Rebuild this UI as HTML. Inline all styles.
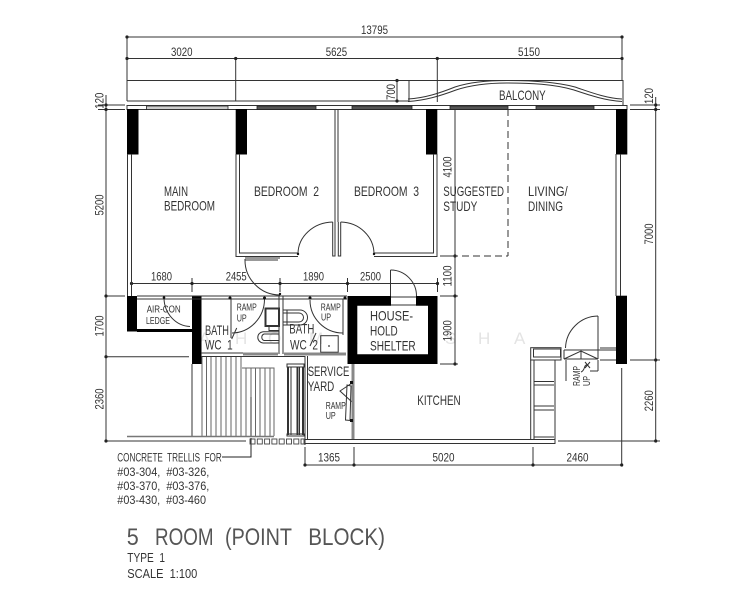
<!DOCTYPE html>
<html><head><meta charset="utf-8"><style>
html,body{margin:0;padding:0;background:#fff}
svg{display:block}
text{font-family:"Liberation Sans",sans-serif;fill:#333;white-space:pre}
</style></head><body>
<svg width="750" height="600" viewBox="0 0 750 600" xmlns="http://www.w3.org/2000/svg">
<rect width="750" height="600" fill="#fff"/>
<!-- watermark -->
<g font-size="17">
<text x="199" y="344" style="fill:#e4e4e4">A</text><text x="235" y="344" style="fill:#e4e4e4">H</text><text x="268" y="344" style="fill:#e4e4e4">O</text><text x="309" y="344" style="fill:#e4e4e4">M</text><text x="347" y="344" style="fill:#e4e4e4">E</text><text x="445" y="344" style="fill:#e4e4e4">S</text><text x="478" y="344" style="fill:#e4e4e4">H</text><text x="514" y="344" style="fill:#e4e4e4">A</text>
</g>
<!-- dimension lines -->
<g stroke="#333" stroke-width="1" fill="none">
<path d="M127 37H622M127 58.500H622M127 37V101M235.700 58.500V101M437.300 58.500V102M622 37V80"/>
<path d="M127 80.500H623V105M127 101H409"/>
<path d="M397 80.500V102M387 101H409"/>
<path d="M98 105H125M98 109.500H125M106 95V441M106 296H125M106 356.700H189M106 441H246"/>
<path d="M630 105H660M630 109.500H660M655.700 97V441M630 360H660M558 441H660"/>
<path d="M455 109V296M455 296V364M440 256H458M440 296H458M440 364H458"/>
<path d="M131.500 283.500H437.500M131.500 278V292M192 278V292M280 278V292M347.500 278V292M437.500 278V292"/>
<path d="M305 465H622M305 447V465M354 447V465M533 447V465M621.700 368V465"/>
</g>
<g fill="#222">
<circle cx="127" cy="37" r="1.600"/><circle cx="622" cy="37" r="1.600"/><circle cx="127" cy="58.500" r="1.600"/><circle cx="235.700" cy="58.500" r="1.600"/><circle cx="437.300" cy="58.500" r="1.600"/><circle cx="622" cy="58.500" r="1.600"/>
<circle cx="397" cy="80.500" r="1.600"/><circle cx="397" cy="101" r="1.600"/>
<circle cx="106" cy="105" r="1.600"/><circle cx="106" cy="109.500" r="1.600"/><circle cx="106" cy="296" r="1.600"/><circle cx="106" cy="356.700" r="1.600"/><circle cx="106" cy="441" r="1.600"/>
<circle cx="655.700" cy="105" r="1.600"/><circle cx="655.700" cy="109.500" r="1.600"/><circle cx="655.700" cy="360" r="1.600"/><circle cx="655.700" cy="441" r="1.600"/>
<circle cx="455" cy="256" r="1.600"/><circle cx="455" cy="296" r="1.600"/><circle cx="455" cy="364" r="1.600"/>
<circle cx="131.500" cy="283.500" r="1.600"/><circle cx="192" cy="283.500" r="1.600"/><circle cx="280" cy="283.500" r="1.600"/><circle cx="347.500" cy="283.500" r="1.600"/><circle cx="437.500" cy="283.500" r="1.600"/>
<circle cx="305" cy="465" r="1.600"/><circle cx="354" cy="465" r="1.600"/><circle cx="533" cy="465" r="1.600"/><circle cx="621.700" cy="465" r="1.600"/>
</g>
<!-- balcony curve -->
<g fill="none" stroke="#333" stroke-width="1">
<path d="M408 99C425 98 440 93 455 87C470 82 490 80.500 507 80.500C530 80.500 555 81.500 575 87C590 92 605 98 622 99"/>
<path d="M408 101.500C425 100.500 440 96 456 90C471 85 490 83 507 83C530 83 554 84 574 90C589 95 605 100.500 622 101.500"/>
<path d="M409 80.500V102"/>
</g>
<!-- top wall and windows -->
<g fill="none" stroke="#333" stroke-width="1">
<rect x="127" y="105.500" width="500" height="4"/>
</g>
<g fill="#555" stroke="#222" stroke-width=".8">
<rect x="146.500" y="106" width="81.500" height="3.500" fill="#ccc"/>
<rect x="257" y="106" width="59" height="3.500"/>
<rect x="352" y="106" width="60" height="3.500"/>
<rect x="450" y="106" width="58" height="3.500"/>
<rect x="536" y="106" width="58" height="3.500"/>
</g>
<!-- thick columns -->
<g fill="#000">
<rect x="127" y="109" width="11.500" height="45.500"/>
<rect x="235.700" y="109" width="11.300" height="45.500"/>
<rect x="426" y="109" width="11.300" height="45.500"/>
<rect x="616" y="109" width="11.300" height="45.500"/>
<rect x="616" y="295.700" width="11" height="68.300"/>
<rect x="127" y="296" width="10" height="35.500"/>
<rect x="192" y="296" width="9.500" height="68"/>
<rect x="137" y="329" width="55" height="3"/>
<path fill-rule="evenodd" d="M347.500 296H437.500V364H347.500ZM357.300 305.700V354.300H428V305.700Z"/>
</g>
<rect x="391" y="295" width="25" height="11.500" fill="#fff"/>
<!-- thin walls -->
<g fill="none" stroke="#333" stroke-width="1">
<path d="M127.500 154V296M131.500 154V296"/>
<path d="M236 154V256.500H298M239.500 154V253H298"/>
<path d="M335 109V222M338 109V222"/>
<path d="M332.700 222V256H335V222M338.300 222V256H340.700V222"/>
<path d="M437 154V256.500H374M433.500 154V253H374"/>
<path d="M616 154V296M620.500 154V296"/>
<path d="M245 258H280M245 260H278"/>
<path d="M298 254A35.500 32 0 0 1 332.700 222M374 254A34 32 0 0 0 340.700 222"/>
<path d="M245 259A35 35 0 0 0 280 295"/>
<path d="M137 296H347M137 299H347"/>
<path d="M164 298A27 29 0 0 0 190 326.500"/>
<path d="M231 299V338M264.500 299A33 34 0 0 1 232 333M236.700 328L231.700 339"/>
<path d="M279 296V354M283 296V354"/>
<path d="M310 300A33 33 0 0 0 343 333M343 299V335M316 333L310 346"/>
<path d="M390.500 270V296M390.500 270H391A26 26 0 0 1 416.500 296M391 297H416M391 305H416"/>
<!-- fixtures -->
<rect x="265.500" y="308.500" width="13.500" height="17.500" stroke-width="2"/>
<path d="M269 326V330.500H279"/>
<path d="M279 331.700H263A6 5.700 0 0 0 263 343H279M279 334H264A3.500 3.500 0 0 0 264 340.500H279"/>
<path d="M283 310H300A7.500 7.500 0 0 1 300 325H283M287 310V325M283 313H299A4.500 4.500 0 0 1 299 322H283"/>
<rect x="320.700" y="335.700" width="17.500" height="16.500"/>
<!-- wall under baths -->
<path d="M201 356.500H305M201 353H243"/>
<path d="M192 364V436.500"/>
</g>
<circle cx="329" cy="346" r=".9" fill="#333"/>
<g fill="#111"><circle cx="164" cy="297.500" r="1.300"/><circle cx="230" cy="298" r="1.500"/><circle cx="264.500" cy="298" r="1.500"/><circle cx="310" cy="298" r="1.500"/><circle cx="345" cy="298" r="1.500"/><circle cx="280" cy="294" r="1.200"/><circle cx="298" cy="254" r="1.200"/><circle cx="374" cy="254" r="1.200"/></g>
<rect x="243" y="352.500" width="35" height="3" fill="#888"/>
<rect x="284" y="352.500" width="62" height="3" fill="#888"/>
<!-- trellis -->
<g stroke="#666" stroke-width="1" fill="none">
<path d="M202 357V436M206.500 357V436M211 357V436M216 357V436M221 357V436M226 357V436M231 357V436M236 357V436M241 357V436"/>
<path d="M242 368H274V436M246 368V436M251 368V436M255.500 368V436M260 368V436M265 368V436M270 368V436"/>
</g>
<path d="M127 436.500H274" stroke="#777" stroke-width="1.500" fill="none"/>
<path d="M251 397V437" stroke="#777" stroke-width="1.500" fill="none"/>
<path d="M251 438V457H222" stroke="#222" stroke-width="1" fill="none"/>
<g stroke="#333" fill="none" stroke-width="1">
<rect x="287" y="364" width="17" height="3"/>
<path d="M288 367V435M297.500 367V435M303 367V435" stroke-width="2"/>
<path d="M291 367V435M299.500 367V435"/>
<rect x="287" y="434" width="17" height="2"/>
</g>
<g fill="none" stroke="#444" stroke-width=".9">
<rect x="250" y="439" width="5" height="5"/><rect x="257.300" y="439" width="5" height="5"/><rect x="264.600" y="439" width="5" height="5"/><rect x="271.900" y="439" width="5" height="5"/><rect x="279.200" y="439" width="5" height="5"/><rect x="286.500" y="439" width="5" height="5"/><rect x="293.800" y="439" width="5" height="5"/><rect x="301" y="439" width="3" height="5"/>
</g>
<!-- service yard and kitchen -->
<g fill="none" stroke="#333" stroke-width="1">
<path d="M305 356V445M307.500 356V439"/>
<path d="M305 439.500H555M305 443.500H555V360"/>
<path d="M352 383L340 391L352 402M347 385L345.500 420L350 420.500L351 386Z"/>
<path d="M508 109V256M440 256H508" stroke-dasharray="7 4"/>
<rect x="530.700" y="347.700" width="30.300" height="12.300"/>
<rect x="533.500" y="349" width="27" height="8"/>
<path d="M530.700 360V440"/>
<path d="M534 360V440M534 360H554M534 381.500H554M534 385H554M534 406H554M534 410H554M534 437H554"/>
<path d="M564 350H616M564 359H598M600 348H616M600 360H616M564 350V359M598 350V359"/>
<path d="M564 359L581 351L598 359M581 351V359"/>
<path d="M566 360V381M598 360V371M590 371H598"/>
<path d="M598 316V350M598 316A33 33 0 0 0 565.500 348"/>
<path d="M581 372C586 370 583 364 588 365M585 362L590 368M590 362L585 368"/>
</g>
<rect x="351.500" y="364" width="3" height="75" fill="#888"/>
<rect x="350" y="381" width="3" height="3" fill="#111"/>
<rect x="350" y="419" width="3" height="3" fill="#111"/>
<!-- labels -->
<g font-size="12">
<text x="361" y="34" textLength="27" lengthAdjust="spacingAndGlyphs">13795</text>
<text x="171" y="56" textLength="21.500" lengthAdjust="spacingAndGlyphs">3020</text>
<text x="325.700" y="56" textLength="21.500" lengthAdjust="spacingAndGlyphs">5625</text>
<text x="518" y="56" textLength="22" lengthAdjust="spacingAndGlyphs">5150</text>
<text x="151" y="280.700" textLength="21" lengthAdjust="spacingAndGlyphs">1680</text>
<text x="225.700" y="280.700" textLength="21" lengthAdjust="spacingAndGlyphs">2455</text>
<text x="303" y="280.700" textLength="21" lengthAdjust="spacingAndGlyphs">1890</text>
<text x="360" y="280.700" textLength="21" lengthAdjust="spacingAndGlyphs">2500</text>
<text x="318" y="461.500" textLength="22" lengthAdjust="spacingAndGlyphs">1365</text>
<text x="432.500" y="461.500" textLength="22" lengthAdjust="spacingAndGlyphs">5020</text>
<text x="566.500" y="461.500" textLength="22" lengthAdjust="spacingAndGlyphs">2460</text>
<text transform="translate(103.500 100.700) rotate(-90)" text-anchor="middle" textLength="16" lengthAdjust="spacingAndGlyphs">120</text>
<text transform="translate(103.500 205) rotate(-90)" text-anchor="middle" textLength="21" lengthAdjust="spacingAndGlyphs">5200</text>
<text transform="translate(103.500 326) rotate(-90)" text-anchor="middle" textLength="21" lengthAdjust="spacingAndGlyphs">1700</text>
<text transform="translate(103.500 399) rotate(-90)" text-anchor="middle" textLength="21" lengthAdjust="spacingAndGlyphs">2360</text>
<text transform="translate(653 96) rotate(-90)" text-anchor="middle" textLength="16" lengthAdjust="spacingAndGlyphs">120</text>
<text transform="translate(653 234) rotate(-90)" text-anchor="middle" textLength="21" lengthAdjust="spacingAndGlyphs">7000</text>
<text transform="translate(653 400.700) rotate(-90)" text-anchor="middle" textLength="21" lengthAdjust="spacingAndGlyphs">2260</text>
<text transform="translate(395 92) rotate(-90)" text-anchor="middle" textLength="16" lengthAdjust="spacingAndGlyphs">700</text>
<text transform="translate(451.700 167) rotate(-90)" text-anchor="middle" textLength="21" lengthAdjust="spacingAndGlyphs">4100</text>
<text transform="translate(451.700 276) rotate(-90)" text-anchor="middle" textLength="21" lengthAdjust="spacingAndGlyphs">1100</text>
<text transform="translate(451.700 330.700) rotate(-90)" text-anchor="middle" textLength="21" lengthAdjust="spacingAndGlyphs">1900</text>
</g>
<g font-size="14">
<text x="499" y="100" textLength="46.700" lengthAdjust="spacingAndGlyphs">BALCONY</text>
<text x="164" y="196" textLength="24" lengthAdjust="spacingAndGlyphs">MAIN</text>
<text x="164" y="210.500" textLength="51" lengthAdjust="spacingAndGlyphs">BEDROOM</text>
<text x="254" y="196" textLength="65" lengthAdjust="spacingAndGlyphs">BEDROOM  2</text>
<text x="354" y="196" textLength="65" lengthAdjust="spacingAndGlyphs">BEDROOM  3</text>
<text x="443.300" y="196" textLength="60.700" lengthAdjust="spacingAndGlyphs">SUGGESTED</text>
<text x="443.300" y="211" textLength="34" lengthAdjust="spacingAndGlyphs">STUDY</text>
<text x="528" y="196" textLength="39.700" lengthAdjust="spacingAndGlyphs">LIVING/</text>
<text x="528" y="211" textLength="35" lengthAdjust="spacingAndGlyphs">DINING</text>
<text x="205" y="335" textLength="24" lengthAdjust="spacingAndGlyphs">BATH</text>
<text x="205" y="349.500" textLength="27.700" lengthAdjust="spacingAndGlyphs">WC  1</text>
<text x="289.300" y="333.500" textLength="25" lengthAdjust="spacingAndGlyphs">BATH</text>
<text x="290" y="349.500" textLength="28" lengthAdjust="spacingAndGlyphs">WC  2</text>
<text x="370" y="320.700" textLength="43" lengthAdjust="spacingAndGlyphs">HOUSE-</text>
<text x="370" y="335.700" textLength="27.700" lengthAdjust="spacingAndGlyphs">HOLD</text>
<text x="370" y="350.700" textLength="45.700" lengthAdjust="spacingAndGlyphs">SHELTER</text>
<text x="307.700" y="376" textLength="41.600" lengthAdjust="spacingAndGlyphs">SERVICE</text>
<text x="307.700" y="391" textLength="26.600" lengthAdjust="spacingAndGlyphs">YARD</text>
<text x="417.300" y="405" textLength="43.400" lengthAdjust="spacingAndGlyphs">KITCHEN</text>
</g>
<g font-size="10.500">
<text x="146.700" y="312.700" textLength="34" lengthAdjust="spacingAndGlyphs">AIR-CON</text>
<text x="146" y="324" textLength="24" lengthAdjust="spacingAndGlyphs">LEDGE</text>
<text x="236.700" y="310.700" textLength="20" lengthAdjust="spacingAndGlyphs">RAMP</text>
<text x="236.700" y="321.700" textLength="10" lengthAdjust="spacingAndGlyphs">UP</text>
<text x="320.700" y="310.700" textLength="20" lengthAdjust="spacingAndGlyphs">RAMP</text>
<text x="321" y="320.700" textLength="10" lengthAdjust="spacingAndGlyphs">UP</text>
<text x="325.700" y="409" textLength="20" lengthAdjust="spacingAndGlyphs">RAMP</text>
<text x="325.700" y="419" textLength="10" lengthAdjust="spacingAndGlyphs">UP</text>
<text transform="translate(580 386) rotate(-90)" textLength="20" lengthAdjust="spacingAndGlyphs">RAMP</text>
<text transform="translate(590 386) rotate(-90)" textLength="10" lengthAdjust="spacingAndGlyphs">UP</text>
</g>
<g font-size="11.500">
<text x="117.300" y="461.700" textLength="104.400" lengthAdjust="spacingAndGlyphs">CONCRETE  TRELLIS  FOR</text>
<text x="117.300" y="476" textLength="92" lengthAdjust="spacingAndGlyphs">#03-304,  #03-326,</text>
<text x="117.300" y="490" textLength="92" lengthAdjust="spacingAndGlyphs">#03-370,  #03-376,</text>
<text x="117.300" y="504" textLength="88.700" lengthAdjust="spacingAndGlyphs">#03-430,  #03-460</text>
</g>
<g font-size="24.500" style="fill:#555">
<text x="126.700" y="545" textLength="12" lengthAdjust="spacingAndGlyphs" style="fill:#555">5</text>
<text x="155" y="545" textLength="58.500" lengthAdjust="spacingAndGlyphs" style="fill:#555">ROOM</text>
<text x="225" y="545" textLength="67" lengthAdjust="spacingAndGlyphs" style="fill:#555">(POINT</text>
<text x="308.300" y="545" textLength="76.700" lengthAdjust="spacingAndGlyphs" style="fill:#555">BLOCK)</text>
</g>
<text x="127.300" y="562" font-size="13" textLength="37.700" lengthAdjust="spacingAndGlyphs">TYPE  1</text>
<text x="127.300" y="578" font-size="13" textLength="70" lengthAdjust="spacingAndGlyphs">SCALE  1:100</text>
</svg>
</body></html>
